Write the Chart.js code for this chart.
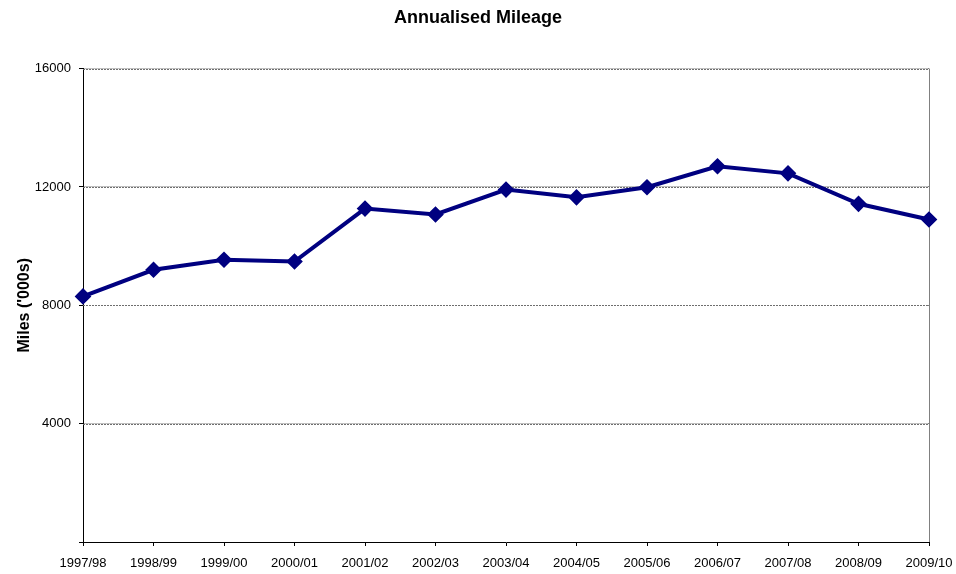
<!DOCTYPE html>
<html>
<head>
<meta charset="utf-8">
<script src="https://cdn.jsdelivr.net/npm/chart.js@4"></script>
<style>
  html, body { margin: 0; padding: 0; background: #fff; }
  #wrap { width: 956px; height: 574px; position: relative; }
</style>
</head>
<body>
<div id="wrap"><canvas id="chartMileage"></canvas></div>
<script>
const years = ['1997/98', '1998/99', '1999/00', '2000/01', '2001/02', '2002/03', '2003/04',
    '2004/05', '2005/06', '2006/07', '2007/08', '2008/09', '2009/10'];
const mileage = [8300, 9200, 9540, 9480, 11270, 11070, 11910, 11650, 11990, 12700, 12460, 11430, 10900];
const yTicks = [0, 4000, 8000, 12000, 16000];

const navy = '#000080';
const gridGrey = '#808080';
const font = 'Liberation Sans, Arial, sans-serif';

new Chart(document.getElementById('chartMileage'), {
    type: 'line',
    data: {
        labels: years,
        datasets: [{
            label: 'Annualised Mileage',
            data: mileage,
            borderColor: navy,
            backgroundColor: navy,
            borderWidth: 4,
            pointStyle: 'rectRot',
            pointRadius: 5.5,
            pointHoverRadius: 5.5,
            tension: 0,
        }]
    },
    options: {
        responsive: true,
        maintainAspectRatio: false,
        animation: false,
        layout: { padding: 0 },
        plugins: {
            legend: { display: false },
            tooltip: { enabled: false },
            title: {
                display: true,
                text: 'Annualised Mileage',
                color: '#000',
                font: { family: font, size: 18, weight: 'bold' },
                padding: { top: 7, bottom: 40 }
            }
        },
        scales: {
            x: {
                offset: false,
                grid: {
                    color: ctx => ctx.index === years.length - 1 ? gridGrey : 'rgba(0,0,0,0)',
                    tickColor: '#000',
                    tickLength: 4,
                },
                border: { color: '#000', width: 1 },
                ticks: {
                    color: '#000',
                    font: { family: font, size: 13 },
                    maxRotation: 0,
                    autoSkip: false,
                    padding: 10
                },
                afterFit: s => {
                    s.height = 32;
                    s.paddingLeft = 0;
                    s.paddingRight = 27;
                }
            },
            y: {
                min: 0,
                max: 16000,
                afterBuildTicks: s => { s.ticks = yTicks.map(v => ({ value: v })); },
                grid: {
                    color: ctx => ctx.tick && ctx.tick.value === 0 ? 'rgba(0,0,0,0)' : gridGrey,
                    tickColor: '#000',
                    tickLength: 4,
                },
                border: { color: '#000', width: 1 },
                ticks: {
                    color: '#000',
                    font: { family: font, size: 13 },
                    padding: 8,
                    callback: v => v === 0 ? '' : v
                },
                title: {
                    display: true,
                    text: "Miles ('000s)",
                    color: '#000',
                    font: { family: font, size: 16, weight: 'bold' },
                    padding: { top: 15, bottom: 0 }
                },
                afterFit: s => {
                    s.width = 83;
                    s.paddingTop = 0;
                    s.paddingBottom = 0;
                }
            }
        }
    },
    plugins: [{
        id: 'dottedGrid',
        beforeDatasetsDraw(chart) {
            // redraw horizontal gridlines dotted, Excel style
            const { ctx, chartArea, scales } = chart;
            ctx.save();
            ctx.fillStyle = '#fff';
            yTicks.forEach(v => {
                if (v === 0) return;
                const y = Math.round(scales.y.getPixelForValue(v)) + 0.5;
                ctx.fillRect(chartArea.left + 1, y - 1, chartArea.width - 2, 2);
                ctx.beginPath();
                ctx.strokeStyle = '#6e6e6e';
                ctx.lineWidth = 1;
                ctx.setLineDash([2, 1]);
                ctx.moveTo(chartArea.left, y);
                ctx.lineTo(chartArea.right, y);
                ctx.stroke();
            });
            ctx.restore();
        }
    }]
});
</script>
</body>
</html>
